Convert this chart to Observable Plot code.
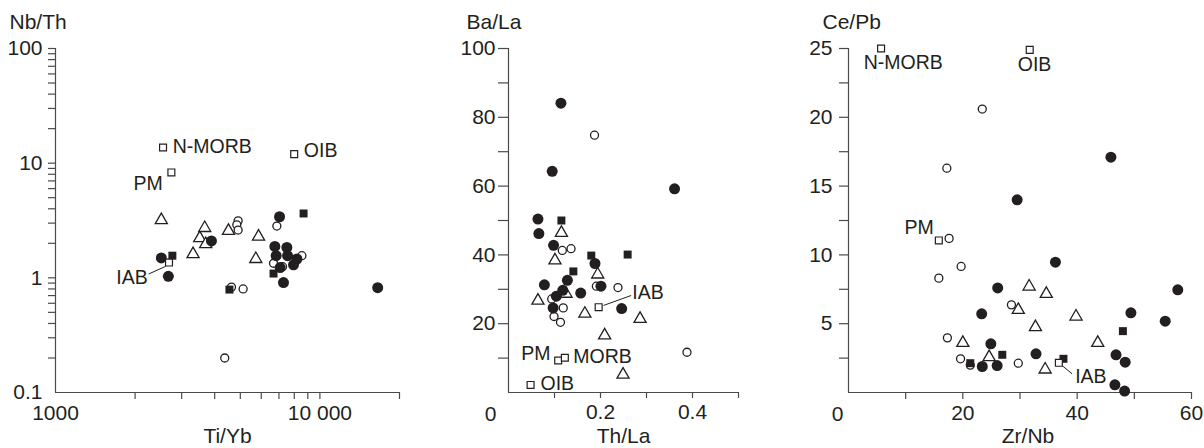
<!DOCTYPE html>
<html>
<head>
<meta charset="utf-8">
<script src="https://cdn.jsdelivr.net/npm/d3@7"></script>
<script src="https://cdn.jsdelivr.net/npm/@observablehq/plot@0.6"></script>
<style>
  html, body { margin: 0; padding: 0; background: #fff; }
  #wrap { position: relative; width: 1204px; height: 448px; overflow: hidden; }
  .panel { position: absolute; top: 0; }
  svg { overflow: visible; }
</style>
</head>
<body>
<div id="wrap"></div>
<script>
// ---------- Panel 1: Ti/Yb vs Nb/Th (log-log) ----------
const p1FilledCircleX = [2513, 2672, 3889, 7036, 6754, 6832, 7499, 7545, 7073, 7281, 7946, 8185, 16540];
const p1FilledCircleY = [1.49, 1.03, 2.10, 3.41, 1.88, 1.56, 1.84, 1.56, 1.23, 0.91, 1.30, 1.46, 0.82];
const p1OpenCircleX = [4906, 4850, 4906, 6873, 6677, 7222, 8548, 5124, 4366, 4630];
const p1OpenCircleY = [3.14, 2.90, 2.61, 2.83, 1.34, 1.25, 1.56, 0.80, 0.20, 0.83];
const p1TriangleX = [2513, 3313, 3512, 3667, 3700, 4510, 5860, 5722];
const p1TriangleY = [3.19, 1.61, 2.22, 2.72, 1.97, 2.57, 2.29, 1.46];
const p1FilledSquareX = [2767, 4548, 6677, 8674];
const p1FilledSquareY = [1.56, 0.79, 1.09, 3.64];
const p1RefNames = ["N-MORB", "OIB", "PM", "IAB"];
const p1RefX = [2551, 7994, 2743, 2687];
const p1RefY = [13.7, 12.0, 8.3, 1.36];
const p1LabelX = [2774, 8695, 2543, 2231];
const p1LabelY = [13.9, 12.8, 6.6, 1.0];
const p1LabelAnchor = ["start", "start", "end", "end"];
const p1LeaderFrom = [2251, 1.08];
const p1LeaderTo = [2610, 1.26];
const p1XTicks = [2000, 3000, 4000, 5000, 6000, 7000, 8000, 9000, 10000, 20000];
const p1XLabels = [1000, 10000];
const p1XLabelText = ["1000", "10 000"];
const p1YTicks = [0.2,0.3,0.4,0.5,0.6,0.7,0.8,0.9,1,2,3,4,5,6,7,8,9,10,20,30,40,50,60,70,80,90,100];
const p1YLabels = [0.1, 1, 10, 100];
const p1YLabelText = ["0.1", "1", "10", "100"];

// ---------- Panel 2: Th/La vs Ba/La ----------
const p2FilledCircleX = [0.114, 0.095, 0.361, 0.064, 0.066, 0.098, 0.188, 0.078, 0.128, 0.118, 0.104, 0.157, 0.201, 0.097, 0.246];
const p2FilledCircleY = [84.1, 64.3, 59.2, 50.4, 46.2, 42.8, 37.5, 31.3, 32.6, 29.7, 28.0, 28.9, 30.9, 24.6, 24.4];
const p2OpenCircleX = [0.187, 0.117, 0.136, 0.191, 0.238, 0.094, 0.119, 0.099, 0.113, 0.388];
const p2OpenCircleY = [74.8, 41.3, 41.8, 30.9, 30.5, 27.2, 24.6, 22.1, 20.4, 11.7];
const p2TriangleX = [0.115, 0.101, 0.194, 0.125, 0.064, 0.166, 0.286, 0.209, 0.249];
const p2TriangleY = [46.4, 38.4, 34.3, 28.7, 26.7, 22.9, 21.4, 16.6, 5.2];
const p2FilledSquareX = [0.115, 0.180, 0.259, 0.141];
const p2FilledSquareY = [50.0, 39.8, 40.1, 35.2];
const p2RefNames = ["IAB", "PM", "MORB", "OIB"];
const p2RefX = [0.196, 0.108, 0.1225, 0.048];
const p2RefY = [24.8, 9.3, 10.1, 2.2];
const p2LabelX = [0.269, 0.0913, 0.1407, 0.0696];
const p2LabelY = [28.9, 11.3, 10.5, 2.6];
const p2LabelAnchor = ["start", "end", "start", "start"];
const p2LeaderFrom = [0.2065, 25.3];
const p2LeaderTo = [0.2667, 28.2];
const p2XTicks = [0.1, 0.2, 0.3, 0.4, 0.5];
const p2XLabels = [0.2, 0.4];
const p2XLabelText = ["0.2", "0.4"];
const p2YTicks = [10, 20, 30, 40, 50, 60, 70, 80, 90, 100];
const p2YLabels = [20, 40, 60, 80, 100];
const p2YLabelText = ["20", "40", "60", "80", "100"];

// ---------- Panel 3: Zr/Nb vs Ce/Pb ----------
const p3FilledCircleX = [45.9, 29.5, 36.2, 26.1, 57.6, 23.3, 49.4, 55.4, 24.9, 32.8, 46.8, 48.4, 23.4, 26.0, 46.6, 48.3];
const p3FilledCircleY = [17.1, 14.0, 9.47, 7.6, 7.46, 5.72, 5.79, 5.18, 3.54, 2.81, 2.74, 2.2, 1.89, 1.96, 0.56, 0.1];
const p3OpenCircleX = [23.4, 17.2, 17.6, 19.7, 15.8, 28.5, 17.3, 19.6, 29.7, 21.3];
const p3OpenCircleY = [20.6, 16.3, 11.2, 9.16, 8.31, 6.37, 3.97, 2.45, 2.13, 1.99];
const p3TriangleX = [31.6, 34.6, 29.7, 39.8, 32.7, 20.0, 43.6, 24.6, 34.4];
const p3TriangleY = [7.7, 7.17, 6.0, 5.52, 4.75, 3.61, 3.61, 2.57, 1.67];
const p3FilledSquareX = [21.3, 26.9, 37.6, 48.0];
const p3FilledSquareY = [2.13, 2.74, 2.45, 4.46];
const p3RefNames = ["N-MORB", "OIB", "PM", "IAB"];
const p3RefX = [5.7, 31.7, 15.8, 36.8];
const p3RefY = [25.0, 24.9, 11.05, 2.16];
const p3LabelX = [2.67, 29.6, 14.9, 39.65];
const p3LabelY = [24.0, 23.8, 12.0, 1.11];
const p3LabelAnchor = ["start", "start", "end", "start"];
const p3LeaderFrom = [37.5, 1.91];
const p3LeaderTo = [39.1, 1.36];
const p3XTicks = [10, 20, 30, 40, 50, 60];
const p3XLabels = [20, 40, 60];
const p3XLabelText = ["20", "40", "60"];
const p3YTicks = [2.5, 5, 7.5, 10, 12.5, 15, 17.5, 20, 22.5, 25];
const p3YLabels = [5, 10, 15, 20, 25];
const p3YLabelText = ["5", "10", "15", "20", "25"];

const ink = "#231f20";
const axisInk = "#4a4a4a";
const FONT = "'Liberation Sans', Arial, Helvetica, sans-serif";
const TICK_FS = 21, TITLE_FS = 21, LABEL_FS = 19.5;

const pts = (xs, ys) => xs.map((x, i) => ({x, y: ys[i]}));

function panel(cfg) {
  const labels = cfg.labelText.map((t, i) => ({t, x: cfg.labelX[i], y: cfg.labelY[i], a: cfg.labelAnchor[i]}));
  const lab = (vals, texts) => d => { const i = vals.indexOf(d); return i >= 0 ? texts[i] : ""; };
  const marks = [
    Plot.ruleX([cfg.xDomain[0]], {stroke: axisInk, strokeWidth: 1.2}),
    Plot.ruleY([cfg.yDomain[0]], {stroke: axisInk, strokeWidth: 1.2}),
    Plot.axisX({ticks: cfg.xTicks, tickSize: cfg.xTickSize, tickFormat: () => "", label: null, stroke: axisInk, strokeWidth: 1.2}),
    Plot.axisX({ticks: cfg.xLabels, tickSize: 0, tickPadding: cfg.xTickSize + 6, tickFormat: lab(cfg.xLabels, cfg.xLabelText), label: null, fill: ink, fontSize: TICK_FS}),
    Plot.axisY({ticks: cfg.yTicks, tickSize: cfg.yTickSize, tickFormat: () => "", label: null, stroke: axisInk, strokeWidth: 1.2}),
    Plot.axisY({ticks: cfg.yLabels, tickSize: 0, tickPadding: cfg.yTickSize + cfg.yPad, tickFormat: lab(cfg.yLabels, cfg.yLabelText), label: null, fill: ink, fontSize: TICK_FS}),
    Plot.link([0], {x1: () => cfg.leaderFrom[0], y1: () => cfg.leaderFrom[1], x2: () => cfg.leaderTo[0], y2: () => cfg.leaderTo[1], stroke: ink, strokeWidth: 1}),
    Plot.dot(pts(cfg.oc[0], cfg.oc[1]), {x: "x", y: "y", r: 4, fill: "white", stroke: ink, strokeWidth: 1.3}),
    Plot.dot(pts(cfg.tr[0], cfg.tr[1]), {x: "x", y: "y", symbol: "triangle", r: 4.5, fill: "white", stroke: ink, strokeWidth: 1.3}),
    Plot.dot(pts(cfg.fc[0], cfg.fc[1]), {x: "x", y: "y", r: 5.5, fill: ink, stroke: "none"}),
    Plot.dot(pts(cfg.fs[0], cfg.fs[1]), {x: "x", y: "y", symbol: "square", r: 4.5, fill: ink, stroke: "none"}),
    Plot.dot(pts(cfg.ref[0], cfg.ref[1]), {x: "x", y: "y", symbol: "square", r: 3.9, fill: "white", stroke: ink, strokeWidth: 1.2}),
    Plot.text(labels.filter(d => d.a === "start"), {x: "x", y: "y", text: "t", textAnchor: "start", lineAnchor: "middle", fill: ink, fontSize: LABEL_FS}),
    Plot.text(labels.filter(d => d.a === "end"), {x: "x", y: "y", text: "t", textAnchor: "end", lineAnchor: "middle", fill: ink, fontSize: LABEL_FS}),
    Plot.text([cfg.yTitle], {frameAnchor: "top-left", dx: cfg.yTitleDx, dy: -26, textAnchor: "start", lineAnchor: "middle", fill: ink, fontSize: TITLE_FS}),
    Plot.text([cfg.xTitle], {frameAnchor: "bottom", dx: cfg.xTitleDx, dy: 44, lineAnchor: "middle", fill: ink, fontSize: TITLE_FS})
  ];
  if (cfg.zero) {
    marks.push(Plot.text([cfg.zero], {x: () => 0, frameAnchor: "bottom", dx: cfg.zeroDx, dy: 22, lineAnchor: "middle", fill: ink, fontSize: TICK_FS}));
  }
  const svg = Plot.plot({
    width: cfg.width,
    height: 448,
    marginLeft: cfg.marginLeft,
    marginRight: cfg.marginRight,
    marginTop: 48,
    marginBottom: 56,
    style: {fontFamily: FONT, fontSize: "20px", background: "transparent", color: ink},
    x: {type: cfg.xType, domain: cfg.xDomain},
    y: {type: cfg.yType, domain: cfg.yDomain},
    marks
  });
  const div = document.createElement("div");
  div.className = "panel";
  div.style.left = cfg.left + "px";
  div.appendChild(svg);
  document.getElementById("wrap").appendChild(div);
}

panel({
  left: 0, width: 410, marginLeft: 55, marginRight: 11,
  xType: "log", xDomain: [1000, 20000], yType: "log", yDomain: [0.1, 100],
  xTicks: p1XTicks, xLabels: p1XLabels, xLabelText: p1XLabelText, xTickSize: 7,
  yTicks: p1YTicks, yLabels: p1YLabels, yLabelText: p1YLabelText, yTickSize: 7, yPad: 6,
  fc: [p1FilledCircleX, p1FilledCircleY], oc: [p1OpenCircleX, p1OpenCircleY],
  tr: [p1TriangleX, p1TriangleY], fs: [p1FilledSquareX, p1FilledSquareY],
  ref: [p1RefX, p1RefY], labelText: p1RefNames, labelX: p1LabelX, labelY: p1LabelY, labelAnchor: p1LabelAnchor,
  leaderFrom: p1LeaderFrom, leaderTo: p1LeaderTo,
  yTitle: "Nb/Th", yTitleDx: -46, xTitle: "Ti/Yb", xTitleDx: 0
});

panel({
  left: 410, width: 400, marginLeft: 98, marginRight: 72,
  xType: "linear", xDomain: [0, 0.5], yType: "linear", yDomain: [0, 100],
  xTicks: p2XTicks, xLabels: p2XLabels, xLabelText: p2XLabelText, xTickSize: 6,
  yTicks: p2YTicks, yLabels: p2YLabels, yLabelText: p2YLabelText, yTickSize: 10, yPad: 3,
  fc: [p2FilledCircleX, p2FilledCircleY], oc: [p2OpenCircleX, p2OpenCircleY],
  tr: [p2TriangleX, p2TriangleY], fs: [p2FilledSquareX, p2FilledSquareY],
  ref: [p2RefX, p2RefY], labelText: p2RefNames, labelX: p2LabelX, labelY: p2LabelY, labelAnchor: p2LabelAnchor,
  leaderFrom: p2LeaderFrom, leaderTo: p2LeaderTo,
  yTitle: "Ba/La", yTitleDx: -42, xTitle: "Th/La", xTitleDx: 0,
  zero: "0", zeroDx: -18
});

panel({
  left: 810, width: 394, marginLeft: 38, marginRight: 13,
  xType: "linear", xDomain: [0, 60], yType: "linear", yDomain: [0, 25],
  xTicks: p3XTicks, xLabels: p3XLabels, xLabelText: p3XLabelText, xTickSize: 7,
  yTicks: p3YTicks, yLabels: p3YLabels, yLabelText: p3YLabelText, yTickSize: 9, yPad: 7,
  fc: [p3FilledCircleX, p3FilledCircleY], oc: [p3OpenCircleX, p3OpenCircleY],
  tr: [p3TriangleX, p3TriangleY], fs: [p3FilledSquareX, p3FilledSquareY],
  ref: [p3RefX, p3RefY], labelText: p3RefNames, labelX: p3LabelX, labelY: p3LabelY, labelAnchor: p3LabelAnchor,
  leaderFrom: p3LeaderFrom, leaderTo: p3LeaderTo,
  yTitle: "Ce/Pb", yTitleDx: -26, xTitle: "Zr/Nb", xTitleDx: 8,
  zero: "0", zeroDx: -11
});
</script>
</body>
</html>
